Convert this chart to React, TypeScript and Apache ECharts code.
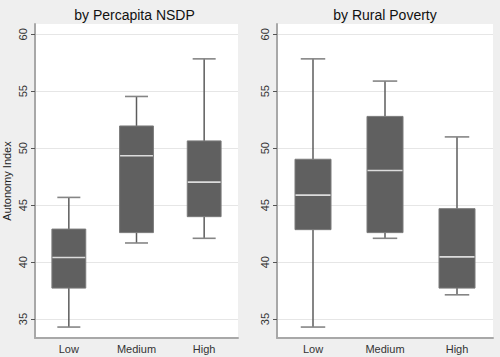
import React, { useEffect, useRef } from "react";
import * as echarts from "echarts";

const categories = ["Low", "Medium", "High"];
const yTicks = [35, 40, 45, 50, 55, 60];
const panelTitles = ["by Percapita NSDP", "by Rural Poverty"];
const yAxisTitle = "Autonomy Index";
// each box: [lower whisker, Q1, median, Q3, upper whisker]
const nsdpBoxes = [
  [34.3, 37.72, 40.4, 42.9, 45.68],
  [41.68, 42.59, 49.33, 51.95, 54.54],
  [42.09, 43.99, 47.02, 50.64, 57.84],
];
const povertyBoxes = [
  [34.3, 42.85, 45.88, 49.03, 57.84],
  [42.09, 42.59, 48.04, 52.79, 55.89],
  [37.13, 37.72, 40.46, 44.69, 50.99],
];
const yMin = 33.34;
const yMax = 60.9;

const FONT = "Liberation Sans, Arial, sans-serif";

const renderBox = (params: any, api: any) => {
  const i = api.value(0);
  const lo = api.coord([i, api.value(1)]);
  const q1 = api.coord([i, api.value(2)]);
  const md = api.coord([i, api.value(3)]);
  const q3 = api.coord([i, api.value(4)]);
  const hi = api.coord([i, api.value(5)]);
  const band = api.size([1, 0])[0];
  const bw = band * 0.5;
  const cw = band * 0.34;
  const cx = lo[0];
  const whisker = { stroke: "#5c5c5c", lineWidth: 1.5 };
  const cap = { stroke: "#858585", lineWidth: 1.6 };
  return {
    type: "group",
    children: [
      { type: "line", shape: { x1: cx, y1: hi[1], x2: cx, y2: q3[1] }, style: whisker },
      { type: "line", shape: { x1: cx, y1: q1[1], x2: cx, y2: lo[1] }, style: whisker },
      { type: "line", shape: { x1: cx - cw / 2, y1: hi[1], x2: cx + cw / 2, y2: hi[1] }, style: cap },
      { type: "line", shape: { x1: cx - cw / 2, y1: lo[1], x2: cx + cw / 2, y2: lo[1] }, style: cap },
      {
        type: "rect",
        shape: { x: cx - bw / 2, y: q3[1], width: bw, height: q1[1] - q3[1] },
        style: { fill: "#606060", stroke: "#7a7a7a", lineWidth: 1 },
      },
      {
        type: "line",
        shape: { x1: cx - bw / 2 + 0.5, y1: md[1], x2: cx + bw / 2 - 0.5, y2: md[1] },
        style: { stroke: "#dcdcdc", lineWidth: 1.6 },
      },
    ],
  };
};

export default function App() {
  const ref = useRef<HTMLDivElement>(null);
  useEffect(() => {
    document.body.style.margin = "0";
    const chart = echarts.init(ref.current!, null, { renderer: "svg" });
    const grids = [
      { left: 31, top: 24, width: 207, height: 314 },
      { left: 277, top: 24, width: 216, height: 314 },
    ];
    const mkY = (idx: number) => ({
      type: "value",
      gridIndex: idx,
      min: yMin,
      max: yMax,
      name: idx === 0 ? yAxisTitle : "",
      nameLocation: "middle",
      nameGap: 23,
      nameTextStyle: { fontFamily: FONT, fontSize: 11, color: "#222" },
      axisLine: { show: true, lineStyle: { color: "#a8a8a8", width: 2 } },
      axisTick: { show: true, length: 4, customValues: yTicks, lineStyle: { color: "#555", width: 1 } },
      axisLabel: {
        customValues: yTicks,
        rotate: 90,
        margin: 7,
        fontFamily: FONT,
        fontSize: 11,
        color: "#333",
      },
      splitLine: { show: true, lineStyle: { color: "#e6e6e6", width: 1 } },
    });
    const mkX = (idx: number) => ({
      type: "category",
      gridIndex: idx,
      data: categories,
      boundaryGap: true,
      axisLine: { show: true, lineStyle: { color: "#a8a8a8", width: 2 } },
      axisTick: { show: false },
      axisLabel: { margin: 5, fontFamily: FONT, fontSize: 11, color: "#333" },
      splitLine: { show: false },
    });
    const toData = (boxes: number[][]) => boxes.map((b, i) => [i, ...b]);
    chart.setOption({
      animation: false,
      backgroundColor: "#efefef",
      grid: grids.map((g) => ({ ...g, show: true, backgroundColor: "#ffffff", borderWidth: 0 })),
      xAxis: [mkX(0), mkX(1)],
      yAxis: [mkY(0), mkY(1)],
      graphic: [
        {
          type: "text",
          x: 31 + 207 / 2,
          y: 15,
          style: { text: panelTitles[0], textAlign: "center", textVerticalAlign: "middle", fontFamily: FONT, fontSize: 14, fill: "#111" },
        },
        {
          type: "text",
          x: 277 + 216 / 2,
          y: 15,
          style: { text: panelTitles[1], textAlign: "center", textVerticalAlign: "middle", fontFamily: FONT, fontSize: 14, fill: "#111" },
        },
      ],
      series: [
        {
          type: "custom",
          xAxisIndex: 0,
          yAxisIndex: 0,
          renderItem: renderBox,
          encode: { x: 0, y: [1, 2, 3, 4, 5] },
          data: toData(nsdpBoxes),
        },
        {
          type: "custom",
          xAxisIndex: 1,
          yAxisIndex: 1,
          renderItem: renderBox,
          encode: { x: 0, y: [1, 2, 3, 4, 5] },
          data: toData(povertyBoxes),
        },
      ],
    });
    return () => chart.dispose();
  }, []);
  return <div ref={ref} style={{ width: 500, height: 357 }} />;
}
